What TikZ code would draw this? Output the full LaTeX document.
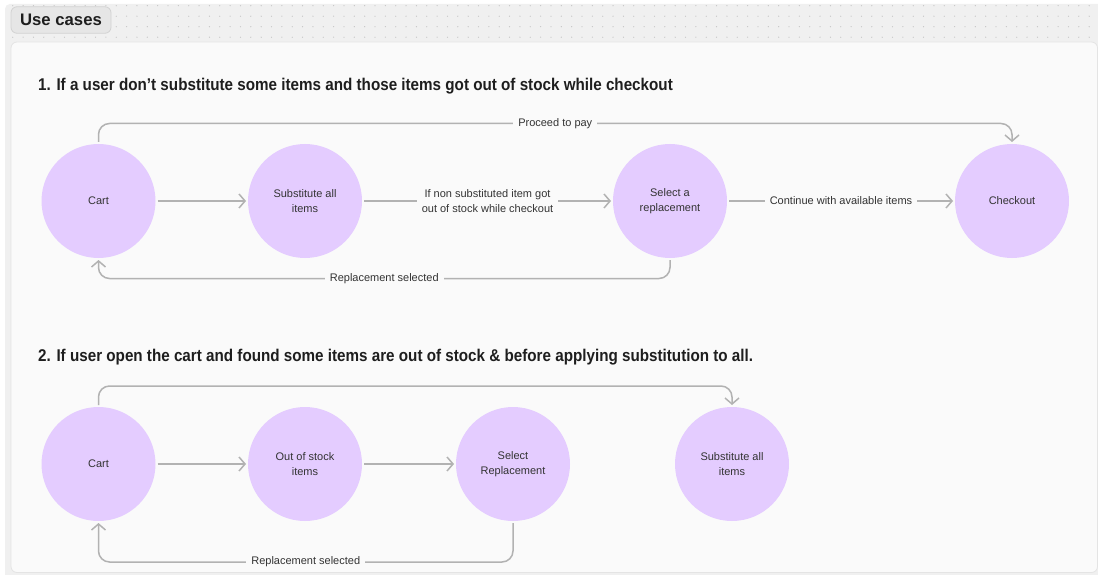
\documentclass[tikz,border=0pt]{standalone}
\usepackage{fontspec}
\setmainfont{Liberation Sans}
\usetikzlibrary{arrows.meta}

\definecolor{canvas}{HTML}{F0F0F0}
\definecolor{dotc}{HTML}{C6C6C6}
\definecolor{panel}{HTML}{FAFAFA}
\definecolor{panelrim}{HTML}{E4E4E4}
\definecolor{tagfill}{HTML}{E6E6E6}
\definecolor{tagrim}{HTML}{D2D2D2}
\definecolor{lavender}{HTML}{E4CCFF}
\definecolor{flowgray}{HTML}{B2B2B2}
\definecolor{labeltext}{HTML}{333333}
\definecolor{headtext}{HTML}{1E1E1E}

\tikzset{
  state/.style={circle, fill=lavender, minimum size=114pt, inner sep=0pt,
    outer sep=2pt, align=center, text=labeltext,
    font=\fontsize{11}{15.5}\selectfont},
  flow/.style={draw=flowgray, line width=1.5pt, rounded corners=11pt,
    -{Straight Barb[length=6pt,width=14pt]}},
  lbl/.style={fill=panel, inner xsep=5pt, inner ysep=1pt, align=center,
    text=labeltext, font=\fontsize{11}{15.5}\selectfont, rounded corners=0pt},
  heading/.style={anchor=base west, inner sep=0pt, text=headtext,
    font=\fontsize{17}{20}\selectfont\bfseries},
}

\begin{document}
\begin{tikzpicture}[x=1pt,y=-1pt]
  \useasboundingbox (0,0) rectangle (1098,575);
  \fill[white] (0,0) rectangle (1098,575);

  % dotted canvas behind the board
  \fill[canvas, rounded corners=5pt] (5,4) rectangle (1110,590);
  \foreach \i in {1,...,106}
    \foreach \j in {5.7,16.2,26.7,37.2}
      \fill[dotc] (2.4+10.35*\i,\j) circle (0.65pt);

  % board
  \filldraw[fill=panel, draw=panelrim, line width=0.8pt, rounded corners=6pt]
    (11,42) rectangle (1097.5,572.5);

  % section tag
  \node[draw=tagrim, fill=tagfill, line width=0.8pt, rounded corners=6pt,
        minimum width=100pt, minimum height=26.5pt, inner sep=0pt,
        font=\fontsize{16.7}{20}\selectfont\bfseries, text=headtext]
    (tag) at (61,20) {Use cases};

  % headings
  \node[heading] (h1) at (38,90.5)
    {\scalebox{0.895}[1]{1. If a user don’t substitute some items and those items got out of stock while checkout}};
  \node[heading] (h2) at (38,361.5)
    {\scalebox{0.895}[1]{2. If user open the cart and found some items are out of stock \& before applying substitution to all.}};

  % flow 1
  \node[state] (cartA) at (98.5,201) {Cart};
  \node[state] (subA)  at (305,201)  {Substitute all\\items};
  \node[state] (selA)  at (670,201)  {Select a\\replacement};
  \node[state] (chkA)  at (1012,201) {Checkout};

  \draw[flow] (cartA) -- (subA);
  \draw[flow] (subA) -- node[lbl] {If non substituted item got\\out of stock while checkout} (selA);
  \draw[flow] (selA) -- node[lbl] {Continue with available items} (chkA);
  \draw[flow] (cartA.north) -- (cartA.north |- 0,123.5)
    -- node[lbl] {Proceed to pay} (chkA.north |- 0,123.5) -- (chkA.north);
  \draw[flow] (selA.south) -- (selA.south |- 0,278.5)
    -- node[lbl] {Replacement selected} (cartA.south |- 0,278.5) -- (cartA.south);

  % flow 2
  \node[state] (cartB) at (98.5,464) {Cart};
  \node[state] (outB)  at (305,464)  {Out of stock\\items};
  \node[state] (selB)  at (513,464)  {Select\\Replacement};
  \node[state] (subB)  at (732,464)  {Substitute all\\items};

  \draw[flow] (cartB) -- (outB);
  \draw[flow] (outB) -- (selB);
  \draw[flow] (cartB.north) -- (cartB.north |- 0,386)
    -- (subB.north |- 0,386) -- (subB.north);
  \draw[flow] (selB.south) -- (selB.south |- 0,562)
    -- node[lbl] {Replacement selected} (cartB.south |- 0,562) -- (cartB.south);
\end{tikzpicture}
\end{document}
